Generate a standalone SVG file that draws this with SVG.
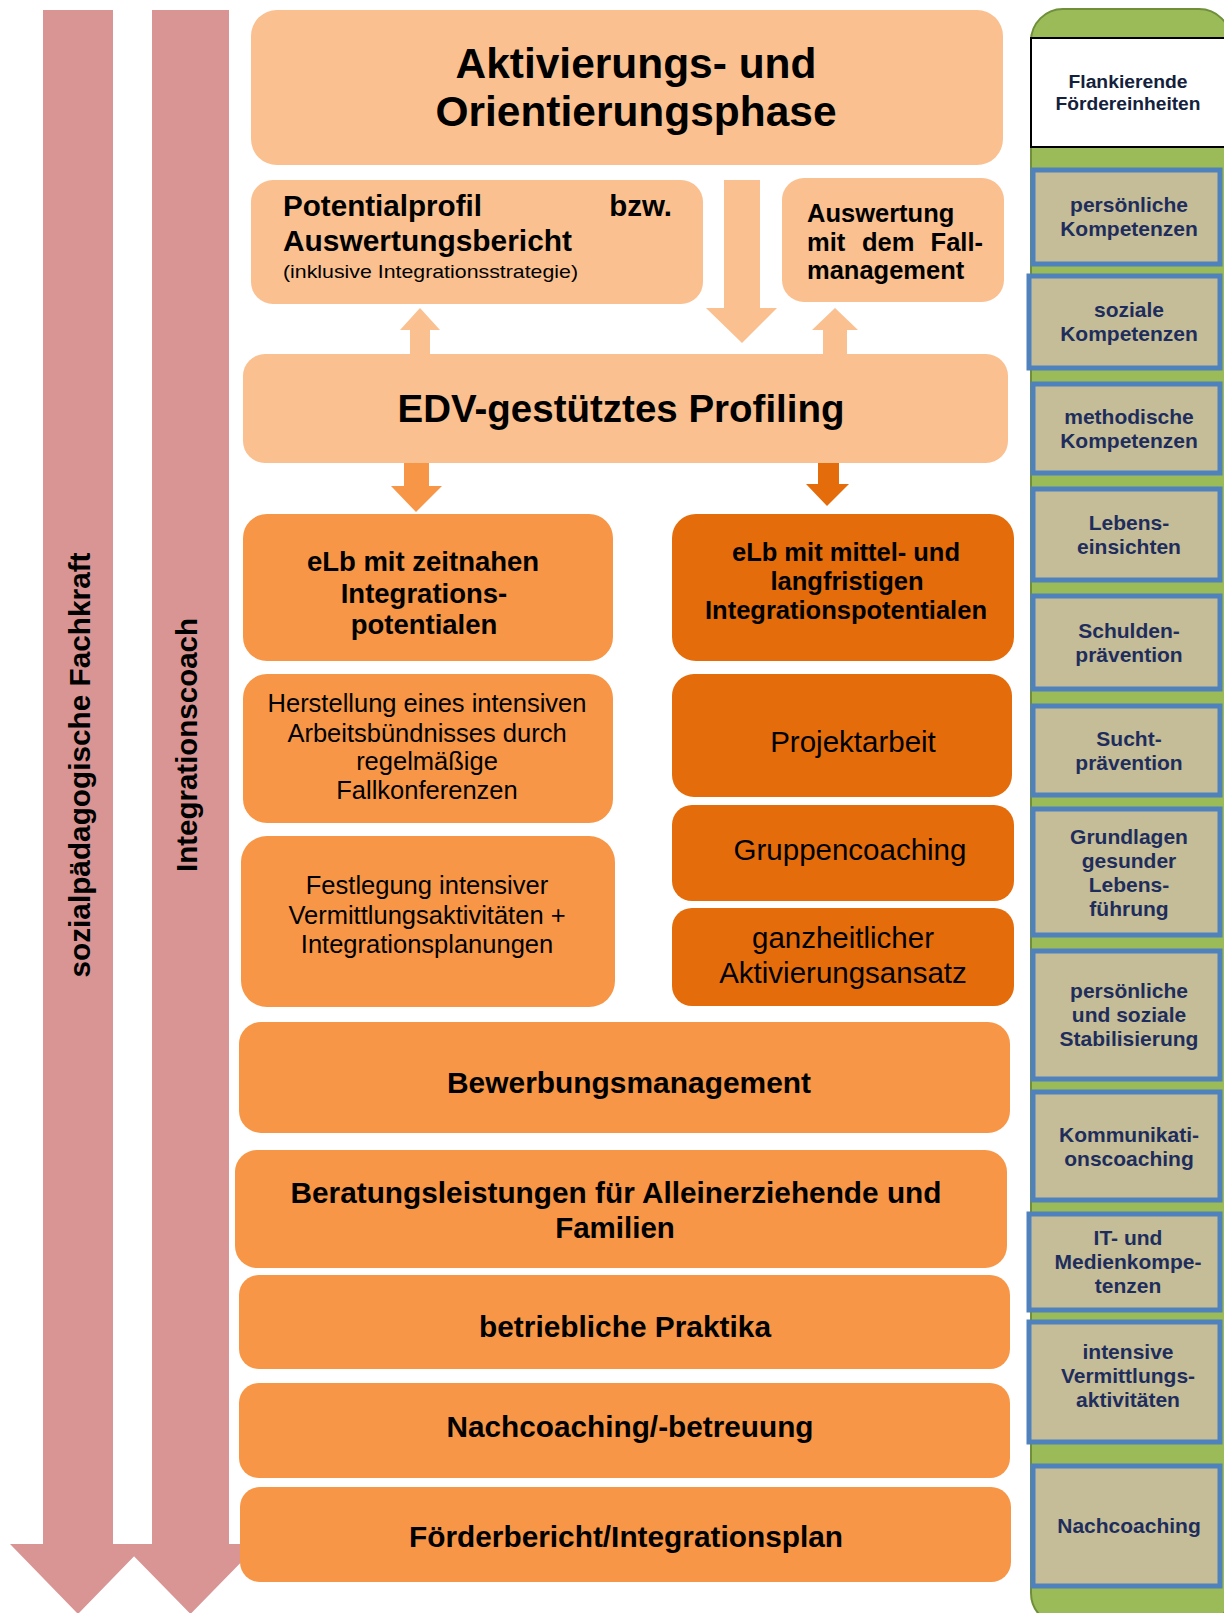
<svg xmlns="http://www.w3.org/2000/svg" width="1224" height="1613" viewBox="0 0 1224 1613">
  <style>
    .peach { fill: #FAC090; }
    .mid { fill: #F79646; }
    .dark { fill: #E46C0A; }
    .lane { fill: #D99594; }
    text { font-family: "Liberation Sans", Arial, sans-serif; fill: #000; }
    .b { font-weight: bold; }
    .c { text-anchor: middle; }
    .e { text-anchor: end; }
    .side { fill: #C4BD97; stroke: #4F81BD; stroke-width: 5; }
    .st { font-weight: bold; font-size: 21px; fill: #1F2D5C; text-anchor: middle; }
  </style>

  <rect width="1224" height="1613" fill="#FFFFFF"/>

  <!-- staff lanes running the full height -->
  <g id="lane-fachkraft">
    <path class="lane" d="M43,10 H113 V1544 H146 L78,1614 L10,1544 H43 Z"/>
    <text class="b c" font-size="29.5" transform="translate(90,765) rotate(-90)" textLength="425" lengthAdjust="spacingAndGlyphs">sozialpädagogische Fachkraft</text>
  </g>
  <g id="lane-coach">
    <path class="lane" d="M152,10 H229 V1544 H259 L190.5,1614 L122,1544 H152 Z"/>
    <text class="b c" font-size="29.5" transform="translate(197,745) rotate(-90)" textLength="254" lengthAdjust="spacingAndGlyphs">Integrationscoach</text>
  </g>

  <!-- block arrows between the phases -->
  <g id="connectors">
    <polygon class="peach" points="724,180 760,180 760,308 777,308 742,343 706,308 724,308"/>
    <polygon class="peach" points="410,356 410,330 400,330 420,308 440,330 430,330 430,356"/>
    <polygon class="peach" points="823,356 823,330 812,330 835,308 858,330 847,330 847,356"/>
    <polygon class="mid" points="404,461 429,461 429,486 442,486 416,512 391,486 404,486"/>
    <polygon class="dark" points="818,461 839,461 839,484 849,484 827,506 806,484 818,484"/>
  </g>

  <g id="aktivierung">
    <rect class="peach" x="251" y="10" width="752" height="155" rx="26"/>
    <text class="b c" x="636" y="78" font-size="42" textLength="361" lengthAdjust="spacingAndGlyphs">Aktivierungs- und</text>
    <text class="b c" x="636" y="126" font-size="42" textLength="401" lengthAdjust="spacingAndGlyphs">Orientierungsphase</text>
  </g>

  <g id="potentialprofil">
    <rect class="peach" x="251" y="180" width="452" height="124" rx="22"/>
    <text class="b" x="283" y="216" font-size="29.5" textLength="199" lengthAdjust="spacingAndGlyphs">Potentialprofil</text>
    <text class="b e" x="672" y="216" font-size="29.5">bzw.</text>
    <text class="b" x="283" y="251" font-size="29.5" textLength="289" lengthAdjust="spacingAndGlyphs">Auswertungsbericht</text>
    <text x="283" y="278" font-size="19" textLength="295" lengthAdjust="spacingAndGlyphs">(inklusive Integrationsstrategie)</text>
  </g>

  <g id="auswertung">
    <rect class="peach" x="782" y="178" width="222" height="124" rx="22"/>
    <text class="b" x="807" y="222" font-size="25.5">Auswertung</text>
    <text class="b" x="807" y="251" font-size="25.5">mit</text>
    <text class="b" x="862" y="251" font-size="25.5">dem</text>
    <text class="b e" x="983" y="251" font-size="25.5">Fall-</text>
    <text class="b" x="807" y="279" font-size="25.5">management</text>
  </g>

  <g id="profiling">
    <rect class="peach" x="243" y="354" width="765" height="109" rx="22"/>
    <text class="b c" x="621" y="422" font-size="38" textLength="447" lengthAdjust="spacingAndGlyphs">EDV-gestütztes Profiling</text>
  </g>

  <g id="elb-zeitnah">
    <rect class="mid" x="243" y="514" width="370" height="147" rx="24"/>
    <text class="b c" x="423" y="571" font-size="27.5">eLb mit zeitnahen</text>
    <text class="b c" x="424" y="603" font-size="27.5">Integrations-</text>
    <text class="b c" x="424" y="634" font-size="27.5">potentialen</text>
  </g>

  <g id="arbeitsbuendnis">
    <rect class="mid" x="243" y="674" width="370" height="149" rx="24"/>
    <text class="c" x="427" y="712" font-size="25.5">Herstellung eines intensiven</text>
    <text class="c" x="427" y="742" font-size="25.5">Arbeitsbündnisses durch</text>
    <text class="c" x="427" y="770" font-size="25.5">regelmäßige</text>
    <text class="c" x="427" y="799" font-size="25.5">Fallkonferenzen</text>
  </g>

  <g id="festlegung">
    <rect class="mid" x="241" y="836" width="374" height="171" rx="26"/>
    <text class="c" x="427" y="894" font-size="25.5">Festlegung intensiver</text>
    <text class="c" x="427" y="924" font-size="25.5">Vermittlungsaktivitäten +</text>
    <text class="c" x="427" y="953" font-size="25.5">Integrationsplanungen</text>
  </g>

  <g id="elb-langfristig">
    <rect class="dark" x="672" y="514" width="342" height="147" rx="24"/>
    <text class="b c" x="846" y="561" font-size="25.5">eLb mit mittel- und</text>
    <text class="b c" x="847" y="590" font-size="25.5">langfristigen</text>
    <text class="b c" x="846" y="619" font-size="25.5">Integrationspotentialen</text>
  </g>

  <g id="projektarbeit">
    <rect class="dark" x="672" y="674" width="340" height="123" rx="22"/>
    <text class="c" x="853" y="752" font-size="29.5">Projektarbeit</text>
  </g>

  <g id="gruppencoaching">
    <rect class="dark" x="672" y="805" width="342" height="96" rx="20"/>
    <text class="c" x="850" y="860" font-size="29.5">Gruppencoaching</text>
  </g>

  <g id="aktivierungsansatz">
    <rect class="dark" x="672" y="908" width="342" height="98" rx="20"/>
    <text class="c" x="843" y="948" font-size="29.5">ganzheitlicher</text>
    <text class="c" x="843" y="983" font-size="29.5">Aktivierungsansatz</text>
  </g>

  <g id="bewerbung">
    <rect class="mid" x="239" y="1022" width="771" height="111" rx="22"/>
    <text class="b c" x="629" y="1093" font-size="29.5" textLength="364" lengthAdjust="spacingAndGlyphs">Bewerbungsmanagement</text>
  </g>

  <g id="beratung">
    <rect class="mid" x="235" y="1150" width="772" height="118" rx="22"/>
    <text class="b c" x="616" y="1203" font-size="29.5" textLength="651" lengthAdjust="spacingAndGlyphs">Beratungsleistungen für Alleinerziehende und</text>
    <text class="b c" x="615" y="1238" font-size="29.5">Familien</text>
  </g>

  <g id="praktika">
    <rect class="mid" x="239" y="1275" width="771" height="94" rx="20"/>
    <text class="b c" x="625" y="1337" font-size="29.5" textLength="292" lengthAdjust="spacingAndGlyphs">betriebliche Praktika</text>
  </g>

  <g id="nachbetreuung">
    <rect class="mid" x="239" y="1383" width="771" height="95" rx="20"/>
    <text class="b c" x="630" y="1437" font-size="29.5" textLength="367" lengthAdjust="spacingAndGlyphs">Nachcoaching/-betreuung</text>
  </g>

  <g id="foerderbericht">
    <rect class="mid" x="240" y="1487" width="771" height="95" rx="20"/>
    <text class="b c" x="626" y="1547" font-size="29.5" textLength="434" lengthAdjust="spacingAndGlyphs">Förderbericht/Integrationsplan</text>
  </g>

  <!-- supporting modules column -->
  <g id="flankierend">
    <rect x="1031" y="9" width="200" height="1616" rx="32" fill="#9BBB59" stroke="#6F8F3A" stroke-width="2"/>
    <rect x="1031" y="38" width="200" height="109" fill="#FFFFFF" stroke="#000000" stroke-width="2"/>
    <text class="st" x="1128" y="88" font-size="18" style="fill:#14213D; font-size:18px" textLength="119" lengthAdjust="spacingAndGlyphs">Flankierende</text>
    <text class="st" x="1128" y="110" font-size="18" style="fill:#14213D; font-size:18px" textLength="145" lengthAdjust="spacingAndGlyphs">Fördereinheiten</text>
  </g>

  <g id="m-persoenlich">
    <rect class="side" x="1033" y="170" width="187" height="94"/>
    <text class="st" x="1129" y="212">persönliche</text>
    <text class="st" x="1129" y="236">Kompetenzen</text>
  </g>
  <g id="m-sozial">
    <rect class="side" x="1029" y="276" width="191" height="92"/>
    <text class="st" x="1129" y="317">soziale</text>
    <text class="st" x="1129" y="341">Kompetenzen</text>
  </g>
  <g id="m-methodisch">
    <rect class="side" x="1033" y="384" width="187" height="89"/>
    <text class="st" x="1129" y="424">methodische</text>
    <text class="st" x="1129" y="448">Kompetenzen</text>
  </g>
  <g id="m-lebenseinsicht">
    <rect class="side" x="1033" y="489" width="187" height="91"/>
    <text class="st" x="1129" y="530">Lebens-</text>
    <text class="st" x="1129" y="554">einsichten</text>
  </g>
  <g id="m-schulden">
    <rect class="side" x="1033" y="596" width="187" height="93"/>
    <text class="st" x="1129" y="638">Schulden-</text>
    <text class="st" x="1129" y="662">prävention</text>
  </g>
  <g id="m-sucht">
    <rect class="side" x="1033" y="706" width="187" height="89"/>
    <text class="st" x="1129" y="746">Sucht-</text>
    <text class="st" x="1129" y="770">prävention</text>
  </g>
  <g id="m-gesundheit">
    <rect class="side" x="1033" y="809" width="187" height="126"/>
    <text class="st" x="1129" y="844">Grundlagen</text>
    <text class="st" x="1129" y="868">gesunder</text>
    <text class="st" x="1129" y="892">Lebens-</text>
    <text class="st" x="1129" y="916">führung</text>
  </g>
  <g id="m-stabilisierung">
    <rect class="side" x="1033" y="951" width="187" height="128"/>
    <text class="st" x="1129" y="998">persönliche</text>
    <text class="st" x="1129" y="1022">und soziale</text>
    <text class="st" x="1129" y="1046">Stabilisierung</text>
  </g>
  <g id="m-kommunikation">
    <rect class="side" x="1033" y="1092" width="187" height="108"/>
    <text class="st" x="1129" y="1142">Kommunikati-</text>
    <text class="st" x="1129" y="1166">onscoaching</text>
  </g>
  <g id="m-medien">
    <rect class="side" x="1029" y="1214" width="191" height="96"/>
    <text class="st" x="1128" y="1245">IT- und</text>
    <text class="st" x="1128" y="1269">Medienkompe-</text>
    <text class="st" x="1128" y="1293">tenzen</text>
  </g>
  <g id="m-vermittlung">
    <rect class="side" x="1029" y="1322" width="191" height="120"/>
    <text class="st" x="1128" y="1359">intensive</text>
    <text class="st" x="1128" y="1383">Vermittlungs-</text>
    <text class="st" x="1128" y="1407">aktivitäten</text>
  </g>
  <g id="m-nachcoaching">
    <rect class="side" x="1033" y="1466" width="187" height="120"/>
    <text class="st" x="1129" y="1533">Nachcoaching</text>
  </g>
</svg>
